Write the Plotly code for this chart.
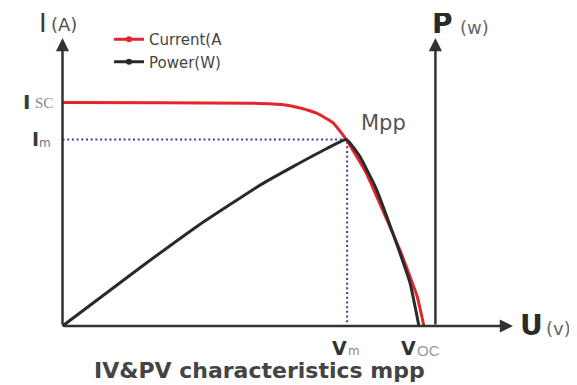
import plotly.graph_objects as go

# I-V curve (voltage V, current A)
iv_voltage = [0, 5.9, 11.4, 13.4, 14.4, 15.4, 16.4, 17.2, 18.4, 19.4, 20.45, 21.5, 21.9]
iv_current = [5.59, 5.58, 5.57, 5.53, 5.45, 5.32, 5.08, 4.66, 3.83, 2.9, 1.9, 0.73, 0]

# P-V curve (voltage V, power W)
pv_voltage = [0, 4.7, 8.3, 12.0, 14.0, 16.0, 17.2, 18.0, 19.0, 20.0, 21.06, 21.6]
pv_power = [0, 25.2, 43.8, 61.0, 69.0, 76.6, 80.6, 73.5, 59.5, 40.5, 18.6, 0]

v_mpp = 17.25
i_mpp = 4.66
i_sc = 5.59
v_oc = 21.9

W, H = 577, 385
OFF = 8  # page body margin of the html page
FONT = "DejaVu Sans"
AXIS_COLOR = "#2f3432"
RED = "#e3262b"
BLACK = "#262b2a"
BLUE = "#3b3f98"


def px(x):
    return (x - OFF) / W


def py(y):
    return 1 - (y - OFF) / H


fig = go.Figure()

# dotted guide lines to the maximum power point
fig.add_trace(go.Scatter(
    x=[0, v_mpp, v_mpp], y=[i_mpp, i_mpp, 0],
    mode="lines", line=dict(color=BLUE, width=2, dash="2px,2.7px"),
    showlegend=False, hoverinfo="skip"))

fig.add_trace(go.Scatter(
    x=pv_voltage, y=pv_power, yaxis="y2",
    mode="lines", line=dict(color=BLACK, width=3, shape="spline", smoothing=0.4),
    showlegend=False, name="Power(W)"))

fig.add_trace(go.Scatter(
    x=iv_voltage, y=iv_current,
    mode="lines", line=dict(color=RED, width=3, shape="spline", smoothing=0.4),
    showlegend=False, name="Current(A"))

# legend entries only
for name, col in [("Current(A", RED), ("Power(W)", BLACK)]:
    fig.add_trace(go.Scatter(
        x=[None], y=[None], mode="lines+markers", name=name,
        line=dict(color=col, width=3), marker=dict(color=col, size=6)))

# axes drawn as arrows
arrows = [
    dict(x=0, y=7.2, ax=0, ay=0),        # I axis
    dict(x=27.3, y=0, ax=0, ay=0),       # U axis
    dict(x=22.6, y=7.2, ax=22.6, ay=0),  # P axis
]
annotations = []
for a in arrows:
    annotations.append(dict(
        xref="x", yref="y", axref="x", ayref="y", text="", showarrow=True,
        arrowhead=2, arrowsize=1.05, arrowwidth=2.5, arrowcolor=AXIS_COLOR,
        standoff=0, startstandoff=0, **a))


def label(text, x, y, size, color="#333", bold=False, family=FONT, box=None):
    if bold:
        text = "<b>" + text + "</b>"
    ann = dict(
        xref="paper", yref="paper", x=px(x), y=py(y), text=text, showarrow=False,
        xanchor="center", yanchor="middle", font=dict(family=family, size=size, color=color))
    if box:
        ann["height"] = box
        ann["borderpad"] = 0
    annotations.append(ann)


label("I", 43, 23, 26, color="#3a3a3a", box=20)
label("(A)", 64, 24, 18, color="#555")
label("I", 26, 102, 20, color="#3a3a3a", bold=True)
label("SC", 44, 103, 15, color="#888", family="Liberation Serif")
label("I", 35, 139, 19, color="#3a3a3a", bold=True)
label("m", 45, 143, 12, color="#777")
label("Mpp", 383, 123, 21, color="#555")
label("P", 442, 23, 28, color="#2a2a2a", bold=True, box=20)
label("(w)", 474, 27, 18, color="#666")
label("U", 531, 325, 28, color="#2a2a2a", bold=True)
label("(v)", 558, 328, 18, color="#666")
label("V", 339, 348, 19, color="#333", bold=True)
label("m", 354, 351, 12, color="#888")
label("V", 408, 348, 19, color="#333", bold=True)
label("OC", 429, 350, 15, color="#999", family="Liberation Sans")
label("IV&amp;PV characteristics mpp", 259, 370, 22, color="#444", bold=True)

fig.update_layout(
    width=W, height=H,
    margin=dict(l=0, r=0, t=0, b=0),
    paper_bgcolor="white", plot_bgcolor="white",
    xaxis=dict(range=[(OFF - 62.5) / 16.5, (W + OFF - 62.5) / 16.5],
               visible=False, fixedrange=True),
    yaxis=dict(range=[-(H + OFF - 326) / 40, (326 - OFF) / 40],
               visible=False, fixedrange=True),
    yaxis2=dict(range=[-(H + OFF - 326) / 2.314, (326 - OFF) / 2.314],
                overlaying="y", visible=False, fixedrange=True),
    legend=dict(x=px(109), y=py(23), xanchor="left", yanchor="top",
                bgcolor="rgba(0,0,0,0)", font=dict(family=FONT, size=15, color="#444"),
                itemwidth=30, tracegroupgap=0),
    annotations=annotations,
    showlegend=True,
)

fig.write_html("out.html")
